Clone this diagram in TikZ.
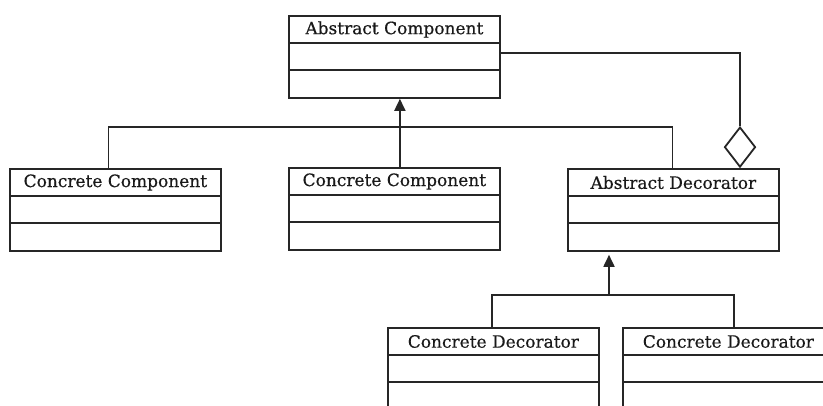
\documentclass[tikz,border=0pt]{standalone}
\usepackage{fontspec}
\setmainfont{DejaVu Serif}[FakeBold=0.5]
\usetikzlibrary{arrows.meta,shapes.geometric,calc}

\tikzset{
  uml/.style={draw=black!85, line width=1.8pt},
  cls/.style={uml, rectangle, inner sep=0pt, minimum width=211pt,
              minimum height=82pt, anchor=north west},
  title/.style={font=\fontsize{17pt}{20pt}\selectfont, text=black!90,
                inner sep=0pt, anchor=center},
  link/.style={uml},
  inherit/.style={uml, -{Triangle[length=12pt,width=11pt]}},
  aggr/.style={uml, diamond, shape aspect=0.78, inner sep=0pt,
               minimum width=31pt, minimum height=40pt, fill=white, anchor=south},
}

% a class box: name, top-left corner, title
\newcommand{\umlclass}[3]{%
  \node[cls] (#1) at #2 {};
  \node[title] (#1-t) at ($(#1.north)+(0,-14.5pt)$) {#3};
  \draw[uml] ($(#1.north west)+(0,-28pt)$) -- ($(#1.north east)+(0,-28pt)$);
  \draw[uml] ($(#1.north west)+(0,-55pt)$) -- ($(#1.north east)+(0,-55pt)$);
}

\begin{document}
\begin{tikzpicture}[x=1pt,y=-1pt]
\useasboundingbox (0,0) rectangle (823,405);
\clip (0,0) rectangle (823,405);

% classes
\umlclass{ac}{(288,15)}{Abstract Component}
\umlclass{cc1}{(9,168)}{Concrete Component}
\umlclass{cc2}{(288,167)}{Concrete Component}
\umlclass{ad}{(567,168)}{Abstract Decorator}
\umlclass{cd1}{(387,327)}{Concrete Decorator}
\umlclass{cd2}{(622,327)}{Concrete Decorator}

% aggregation from the decorator back to the component
\node[aggr] (agg) at (740,168) {};
\draw[link] (ac.east |- 0,53) -| (agg.north);

% component hierarchy
\coordinate (bus1) at (399,127);
\draw[link] ([xshift=-7pt]cc1.north) |- (bus1) -| ([xshift=-1pt]ad.north);
\draw[inherit] ([xshift=5.5pt]cc2.north) -- ([xshift=5.5pt]ac.south);

% decorator hierarchy
\coordinate (bus2) at (609,295);
\draw[link] ([xshift=-1.5pt]cd1.north) |- (bus2) -| ([xshift=5.5pt]cd2.north);
\draw[inherit, shorten >=3pt] (bus2) -- (bus2 |- ad.south);
\end{tikzpicture}
\end{document}
